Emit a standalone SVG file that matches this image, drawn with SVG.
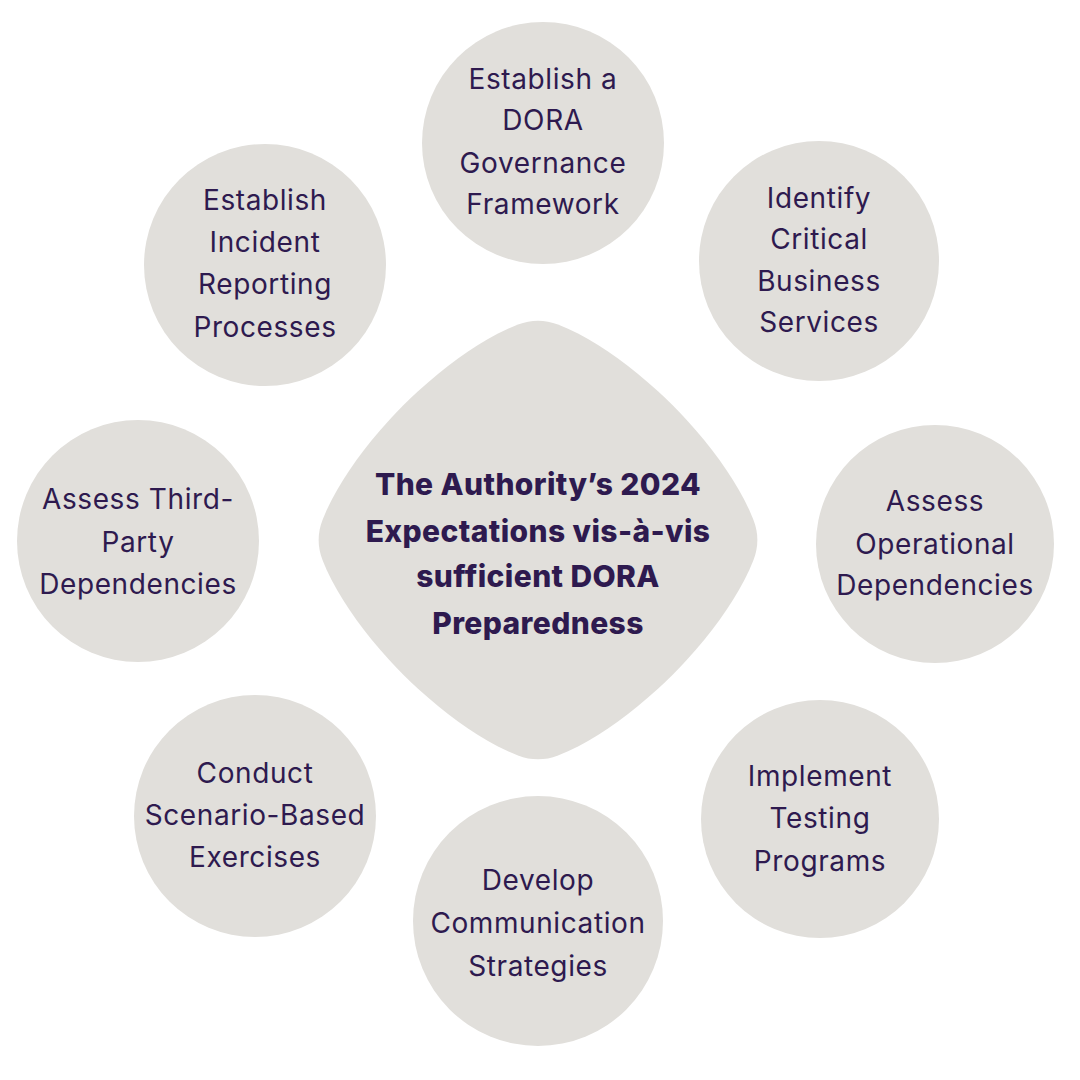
<svg xmlns="http://www.w3.org/2000/svg" width="1080" height="1080" viewBox="0 0 1080 1080">
<style>
.shape{fill:#e1dfdb;}
.lbl{font-family:Inter,"Open Sans","Liberation Sans",sans-serif;font-size:28px;letter-spacing:0.6px;fill:#2e1a4f;text-anchor:middle;}
.ctr{font-family:Inter,"Open Sans","Liberation Sans",sans-serif;font-size:30px;font-weight:800;letter-spacing:0.4px;fill:#2e1a4f;text-anchor:middle;}
</style>
<rect width="1080" height="1080" fill="#ffffff"/>
<g id="connectors"></g>
<g id="center">
<path class="shape" d="M518,324.5 A55.5,55.5 0 0 1 558,324.5 L568,328.7 L578,333.6 L588,339.1 L598,345.1 L608,351.6 L618,358.5 L628,366 L638,373.9 L648,382.4 L658,391.3 L665,397.8 L672.7,405.3 L680.2,413 L686.7,420 L695.6,430 L704.1,440 L712,450 L719.5,460 L726.4,470 L732.9,480 L738.9,490 L744.4,500 L749.3,510 L753.5,520 A55.5,55.5 0 0 1 753.5,560 L749.3,570 L744.4,580 L738.9,590 L732.9,600 L726.4,610 L719.5,620 L712,630 L704.1,640 L695.6,650 L686.7,660 L680.2,667 L672.7,674.7 L665,682.2 L658,688.7 L648,697.6 L638,706.1 L628,714 L618,721.5 L608,728.4 L598,734.9 L588,740.9 L578,746.4 L568,751.3 L558,755.5 A55.5,55.5 0 0 1 518,755.5 L508,751.3 L498,746.4 L488,740.9 L478,734.9 L468,728.4 L458,721.5 L448,714 L438,706.1 L428,697.6 L418,688.7 L411,682.2 L403.3,674.7 L395.8,667 L389.3,660 L380.4,650 L371.9,640 L364,630 L356.5,620 L349.6,610 L343.1,600 L337.1,590 L331.6,580 L326.7,570 L322.5,560 A55.5,55.5 0 0 1 322.5,520 L326.7,510 L331.6,500 L337.1,490 L343.1,480 L349.6,470 L356.5,460 L364,450 L371.9,440 L380.4,430 L389.3,420 L395.8,413 L403.3,405.3 L411,397.8 L418,391.3 L428,382.4 L438,373.9 L448,366 L458,358.5 L468,351.6 L478,345.1 L488,339.1 L498,333.6 L508,328.7 Z"/>
<text class="ctr"><tspan x="538" y="495">The Authority’s 2024</tspan><tspan x="538" y="542">Expectations vis-à-vis</tspan><tspan x="538" y="587">sufficient DORA</tspan><tspan x="538" y="634">Preparedness</tspan></text>
</g>
<g id="n1">
<circle class="shape" cx="543" cy="143" r="121"/>
<text class="lbl"><tspan x="543" y="89">Establish a</tspan><tspan x="543" y="130">DORA</tspan><tspan x="543" y="173">Governance</tspan><tspan x="543" y="214">Framework</tspan></text>
</g>
<g id="n2">
<circle class="shape" cx="819" cy="261" r="120"/>
<text class="lbl"><tspan x="819" y="208">Identify</tspan><tspan x="819" y="249">Critical</tspan><tspan x="819" y="291">Business</tspan><tspan x="819" y="332">Services</tspan></text>
</g>
<g id="n3">
<circle class="shape" cx="935" cy="544" r="119"/>
<text class="lbl"><tspan x="935" y="511">Assess</tspan><tspan x="935" y="554">Operational</tspan><tspan x="935" y="595">Dependencies</tspan></text>
</g>
<g id="n4">
<circle class="shape" cx="820" cy="819" r="119"/>
<text class="lbl"><tspan x="820" y="786">Implement</tspan><tspan x="820" y="828">Testing</tspan><tspan x="820" y="871">Programs</tspan></text>
</g>
<g id="n5">
<circle class="shape" cx="538" cy="921" r="125"/>
<text class="lbl"><tspan x="538" y="890">Develop</tspan><tspan x="538" y="933">Communication</tspan><tspan x="538" y="976">Strategies</tspan></text>
</g>
<g id="n6">
<circle class="shape" cx="255" cy="816" r="121"/>
<text class="lbl"><tspan x="255" y="783">Conduct</tspan><tspan x="255" y="825">Scenario-Based</tspan><tspan x="255" y="867">Exercises</tspan></text>
</g>
<g id="n7">
<circle class="shape" cx="138" cy="541" r="121"/>
<text class="lbl"><tspan x="138" y="509">Assess Third-</tspan><tspan x="138" y="552">Party</tspan><tspan x="138" y="594">Dependencies</tspan></text>
</g>
<g id="n8">
<circle class="shape" cx="265" cy="265" r="121"/>
<text class="lbl"><tspan x="265" y="210">Establish</tspan><tspan x="265" y="252">Incident</tspan><tspan x="265" y="294">Reporting</tspan><tspan x="265" y="337">Processes</tspan></text>
</g>
</svg>
